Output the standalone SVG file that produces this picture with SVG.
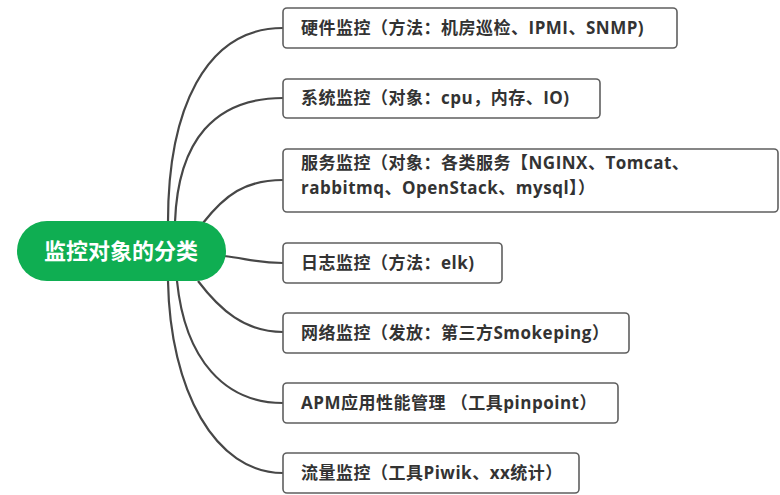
<svg xmlns="http://www.w3.org/2000/svg" width="780" height="495" viewBox="0 0 780 495">
<style>
.box{fill:#fff;stroke:#5f5f5f;stroke-width:1.6}
.t{font-family:"Open Sans","Noto Sans CJK SC",sans-serif;font-weight:bold;font-size:17px;letter-spacing:0.5px;fill:#333}
.root{fill:#0fae52}
.rt{font-family:"Noto Sans CJK SC",sans-serif;font-weight:bold;font-size:22px;fill:#fff}
.c{fill:none;stroke:#474747;stroke-width:2.2}
</style>
<rect width="780" height="495" fill="#fff"/>
<g id="connectors">
<path class="c" d="M168,222 C168,110 205,28 283,28"/>
<path class="c" d="M175,222 C178,140 215,98 283,98"/>
<path class="c" d="M203,223 C225,195 245,180 283,180"/>
<path class="c" d="M224,256 C245,258 255,263 283,263"/>
<path class="c" d="M198,281 C220,310 245,332 283,332"/>
<path class="c" d="M177,281 C185,360 225,403 283,403"/>
<path class="c" d="M168,281 C170,390 215,473 283,473"/>
</g>
<g id="root">
<rect class="root" x="17" y="221" width="209" height="60" rx="30"/>
<text class="rt" x="121" y="259" text-anchor="middle">监控对象的分类</text>
</g>
<g id="n1">
<rect class="box" x="283" y="8" width="394" height="40" rx="4"/>
<text class="t" x="301" y="34">硬件监控（方法：机房巡检、IPMI、SNMP)</text>
</g>
<g id="n2">
<rect class="box" x="283" y="79" width="317" height="39" rx="4"/>
<text class="t" x="301" y="104">系统监控（对象：cpu，内存、IO)</text>
</g>
<g id="n3">
<rect class="box" x="283" y="149" width="495" height="63" rx="4"/>
<text class="t" x="301" y="169">服务监控（对象：各类服务【NGINX、Tomcat、</text>
<text class="t" x="301" y="194">rabbitmq、OpenStack、mysql】）</text>
</g>
<g id="n4">
<rect class="box" x="283" y="243" width="219" height="40" rx="4"/>
<text class="t" x="301" y="269">日志监控（方法：elk)</text>
</g>
<g id="n5">
<rect class="box" x="283" y="313" width="346" height="40" rx="4"/>
<text class="t" x="301" y="339">网络监控（发放：第三方Smokeping）</text>
</g>
<g id="n6">
<rect class="box" x="283" y="383" width="335" height="40" rx="4"/>
<text class="t" x="301" y="409">APM应用性能管理 （工具pinpoint）</text>
</g>
<g id="n7">
<rect class="box" x="283" y="453" width="296" height="40" rx="4"/>
<text class="t" x="301" y="479">流量监控（工具Piwik、xx统计）</text>
</g>
</svg>
